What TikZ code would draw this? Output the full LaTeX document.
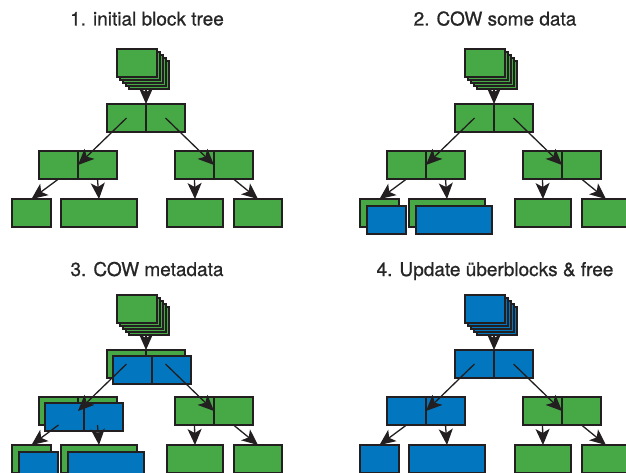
\documentclass[tikz,border=0pt]{standalone}
\usepackage{fontspec}
\setmainfont{TeX Gyre Heros}
\newfontfamily\titlefont{TeX Gyre Heros}[FakeBold=0.8]
\usetikzlibrary{positioning,arrows.meta}
\definecolor{grn}{HTML}{46A946}
\definecolor{blu}{HTML}{0276BE}
\definecolor{outl}{HTML}{231F20}
\definecolor{txt}{HTML}{262626}

\begin{document}
\begin{tikzpicture}[
	x=1pt, y=-1pt,
	cell/.style={draw=outl,fill=grn,line width=1.4pt,rectangle,inner sep=0pt,outer sep=0pt,minimum width=39pt,minimum height=28pt},
	leaf/.style={cell,anchor=north west},
	ubox/.style={cell,anchor=north west,minimum width=40pt},
	cow/.style={fill=blu,anchor=north west,xshift=#1,yshift=-#1},
	cow/.default=6pt,
	title/.style={anchor=base,text=txt,font=\titlefont\fontsize{19}{23}\selectfont},
	ptr/.style={draw=outl,line width=1.3pt,-{Stealth[length=16pt,width=14pt,inset=4pt]}}
	]
	\useasboundingbox (0,0) rectangle (626,473);
	\clip (0,0) rectangle (626,473);

	% 1. initial block tree
	\node[title] (a-title) at (147,25.5) {1. initial block tree};
	\node[ubox] (a-ub1) at (129,61) {};
	\node[ubox] (a-ub2) at (126,58) {};
	\node[ubox] (a-ub3) at (123,55) {};
	\node[ubox] (a-ub4) at (120,52) {};
	\node[ubox] (a-ub) at (117,49) {};
	\node[cell,anchor=north west] (a-root1) at (107,104) {};
	\node[cell,right=0pt of a-root1] (a-root2) {};
	\node[cell,anchor=north west] (a-inl1) at (39,151) {};
	\node[cell,right=0pt of a-inl1] (a-inl2) {};
	\node[cell,anchor=north west] (a-inr1) at (175,151) {};
	\node[cell,right=0pt of a-inr1] (a-inr2) {};
	\node[leaf] (a-d1) at (12,199) {};
	\node[leaf,minimum width=76pt] (a-d2) at (61,199) {};
	\node[leaf,minimum width=56pt] (a-d3) at (167,199) {};
	\node[leaf,minimum width=48pt] (a-d4) at (234,199) {};
	\draw[ptr] (a-root1.north east |- a-ub1.south) -- (a-root1.north east);
	\draw[ptr] (a-root1.center) -- (a-inl1.east);
	\draw[ptr] (a-root2.center) -- (a-inr1.east);
	\draw[ptr] (a-inl1.south) -- (a-d1.north);
	\draw[ptr] (a-inl2.south) -- (a-d2.north);
	\draw[ptr] (a-inr1.south) -- (a-d3.north);
	\draw[ptr] (a-inr2.south) -- (a-d4.north);

	% 2. COW some data
	\begin{scope}[shift={(348,0)}]
	\node[title] (b-title) at (147,25.5) {2. COW some data};
	\node[ubox] (b-ub1) at (129,61) {};
	\node[ubox] (b-ub2) at (126,58) {};
	\node[ubox] (b-ub3) at (123,55) {};
	\node[ubox] (b-ub4) at (120,52) {};
	\node[ubox] (b-ub) at (117,49) {};
	\node[cell,anchor=north west] (b-root1) at (107,104) {};
	\node[cell,right=0pt of b-root1] (b-root2) {};
	\node[cell,anchor=north west] (b-inl1) at (39,151) {};
	\node[cell,right=0pt of b-inl1] (b-inl2) {};
	\node[cell,anchor=north west] (b-inr1) at (175,151) {};
	\node[cell,right=0pt of b-inr1] (b-inr2) {};
	\node[leaf] (b-d1) at (12,199) {};
	\node[leaf,minimum width=76pt] (b-d2) at (61,199) {};
	\node[leaf,minimum width=56pt] (b-d3) at (167,199) {};
	\node[leaf,minimum width=48pt] (b-d4) at (234,199) {};
	% new copies of the data
	\node[leaf,cow=7pt] (b-d1n) at (b-d1.north west) {};
	\node[leaf,cow=7pt,minimum width=76pt] (b-d2n) at (b-d2.north west) {};
	\draw[ptr] (b-root1.north east |- b-ub1.south) -- (b-root1.north east);
	\draw[ptr] (b-root1.center) -- (b-inl1.east);
	\draw[ptr] (b-root2.center) -- (b-inr1.east);
	\draw[ptr] (b-inl1.south) -- (b-d1.north);
	\draw[ptr] (b-inl2.south) -- (b-d2.north);
	\draw[ptr] (b-inr1.south) -- (b-d3.north);
	\draw[ptr] (b-inr2.south) -- (b-d4.north);
	\end{scope}

	% 3. COW metadata
	\begin{scope}[shift={(0,246)}]
	\node[title] (c-title) at (147,30) {3. COW metadata};
	\node[ubox] (c-ub1) at (129,61) {};
	\node[ubox] (c-ub2) at (126,58) {};
	\node[ubox] (c-ub3) at (123,55) {};
	\node[ubox] (c-ub4) at (120,52) {};
	\node[ubox] (c-ub) at (117,49) {};
	\node[cell,anchor=north west] (c-root1) at (107,104) {};
	\node[cell,right=0pt of c-root1] (c-root2) {};
	\node[cell,anchor=north west] (c-inl1) at (39,151) {};
	\node[cell,right=0pt of c-inl1] (c-inl2) {};
	\node[cell,anchor=north west] (c-inr1) at (175,151) {};
	\node[cell,right=0pt of c-inr1] (c-inr2) {};
	\node[leaf] (c-d1) at (12,199) {};
	\node[leaf,minimum width=76pt] (c-d2) at (61,199) {};
	\node[leaf,minimum width=56pt] (c-d3) at (167,199) {};
	\node[leaf,minimum width=48pt] (c-d4) at (234,199) {};
	% new copies of the indirect blocks and data
	\node[cell,cow] (c-root1n) at (c-root1.north west) {};
	\node[cell,right=0pt of c-root1n] (c-root2n) [fill=blu] {};
	\node[cell,cow] (c-inl1n) at (c-inl1.north west) {};
	\node[cell,right=0pt of c-inl1n] (c-inl2n) [fill=blu] {};
	\node[leaf,cow=7pt] (c-d1n) at (c-d1.north west) {};
	\node[leaf,cow=7pt,minimum width=76pt] (c-d2n) at (c-d2.north west) {};
	\draw[ptr] (c-root1.north east |- c-ub1.south) -- (c-root1.north east);
	\draw[ptr] (c-root1.center) -- (c-inl1.east);
	\draw[ptr] (c-root2.center) -- (c-inr1.east);
	\draw[ptr] (c-inl1.south) -- (c-d1.north);
	\draw[ptr] (c-inl2.south) -- (c-d2.north);
	\draw[ptr] (c-inr1.south) -- (c-d3.north);
	\draw[ptr] (c-inr2.south) -- (c-d4.north);
	\end{scope}

	% 4. Update uberblocks & free
	\begin{scope}[shift={(348,246)}]
	\node[title] (d-title) at (147,30) {4. Update überblocks \& free};
	\node[ubox,fill=blu] (d-ub1) at (129,61) {};
	\node[ubox,fill=blu] (d-ub2) at (126,58) {};
	\node[ubox,fill=blu] (d-ub3) at (123,55) {};
	\node[ubox,fill=blu] (d-ub4) at (120,52) {};
	\node[ubox,fill=blu] (d-ub) at (117,49) {};
	\node[cell,fill=blu,anchor=north west] (d-root1) at (107,104) {};
	\node[cell,fill=blu,right=0pt of d-root1] (d-root2) {};
	\node[cell,fill=blu,anchor=north west] (d-inl1) at (39,151) {};
	\node[cell,fill=blu,right=0pt of d-inl1] (d-inl2) {};
	\node[cell,anchor=north west] (d-inr1) at (175,151) {};
	\node[cell,right=0pt of d-inr1] (d-inr2) {};
	\node[leaf,fill=blu] (d-d1) at (12,199) {};
	\node[leaf,fill=blu,minimum width=76pt] (d-d2) at (61,199) {};
	\node[leaf,minimum width=56pt] (d-d3) at (167,199) {};
	\node[leaf,minimum width=48pt] (d-d4) at (234,199) {};
	\draw[ptr] (d-root1.north east |- d-ub1.south) -- (d-root1.north east);
	\draw[ptr] (d-root1.center) -- (d-inl1.east);
	\draw[ptr] (d-root2.center) -- (d-inr1.east);
	\draw[ptr] (d-inl1.south) -- (d-d1.north);
	\draw[ptr] (d-inl2.south) -- (d-d2.north);
	\draw[ptr] (d-inr1.south) -- (d-d3.north);
	\draw[ptr] (d-inr2.south) -- (d-d4.north);
	\end{scope}
\end{tikzpicture}
\end{document}
